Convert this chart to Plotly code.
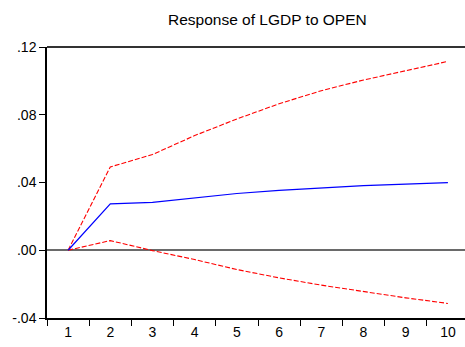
import plotly.graph_objects as go

periods = ["1", "2", "3", "4", "5", "6", "7", "8", "9", "10"]
response = [0.0, 0.0274, 0.0283, 0.0309, 0.0335, 0.0354, 0.0370, 0.0382, 0.0390, 0.0399]
upper_band = [0.0, 0.0492, 0.0565, 0.0677, 0.0775, 0.0865, 0.0942, 0.1005, 0.1060, 0.1115]
lower_band = [0.0, 0.0057, -0.0002, -0.0055, -0.0114, -0.0163, -0.0206, -0.0245, -0.0281, -0.0314]

y_tickvals = [-0.04, 0.0, 0.04, 0.08, 0.12]
y_ticktext = ["-.04", ".00", ".04", ".08", ".12"]
title_text = "Response of LGDP to OPEN"

fig = go.Figure()
fig.add_trace(go.Scatter(x=periods, y=upper_band, mode="lines",
                         line=dict(color="#ff0000", width=1.1, dash="5px,2px")))
fig.add_trace(go.Scatter(x=periods, y=lower_band, mode="lines",
                         line=dict(color="#ff0000", width=1.1, dash="5px,2px")))
fig.add_trace(go.Scatter(x=periods, y=response, mode="lines",
                         line=dict(color="#0000ff", width=1.2)))

font = "Liberation Sans, Arial, sans-serif"
fig.update_layout(
    width=465, height=347,
    margin=dict(l=47, r=0, t=47, b=29),
    paper_bgcolor="white", plot_bgcolor="white",
    showlegend=False,
    font=dict(family=font, size=14, color="black"),
    title=dict(text=title_text, font=dict(family=font, size=15.5, color="black"),
               xref="container", yref="container", x=0.575, y=1 - 20 / 347,
               xanchor="center", yanchor="middle"),
    xaxis=dict(type="category", range=[-0.5, 9.405], showgrid=False, zeroline=False,
               showline=True, linecolor="black", linewidth=1.5,
               ticks="outside", tickson="boundaries", ticklen=6, tickcolor="black",
               tickwidth=1, tickfont=dict(size=14), automargin=False),
    yaxis=dict(range=[-0.04, 0.12], tickvals=y_tickvals, ticktext=y_ticktext,
               showgrid=False, zeroline=True, zerolinecolor="#6a6a6a", zerolinewidth=1.5,
               showline=True, linecolor="black", linewidth=1.5,
               ticks="outside", ticklen=6, tickcolor="black", tickwidth=1,
               tickfont=dict(size=14), automargin=False),
    shapes=[dict(type="line", xref="paper", yref="paper", x0=0, x1=1, y0=1, y1=1,
                 line=dict(color="#333333", width=2))],
)

fig.write_html("out.html", config={"displayModeBar": False},
               post_script="document.body.style.margin='0';document.body.style.overflow='hidden';")
